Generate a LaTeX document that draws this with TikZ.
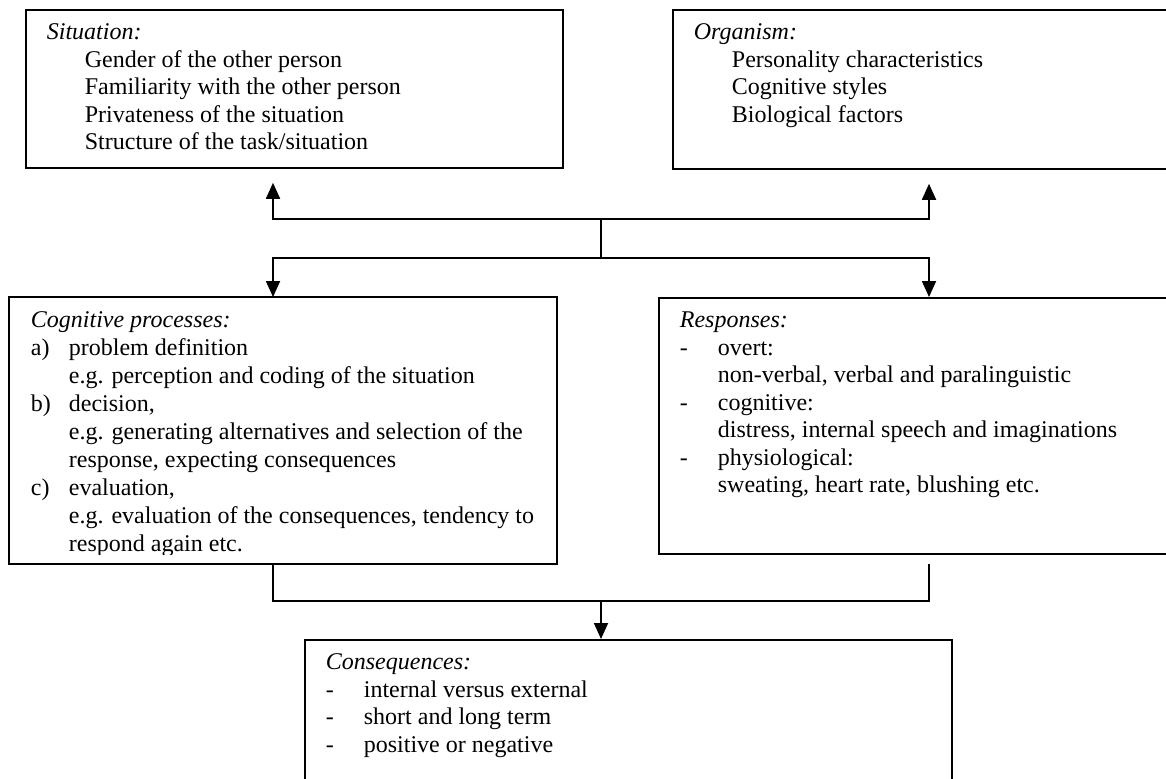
\documentclass[tikz,border=0pt]{standalone}
\usepackage{fontspec}
\setmainfont{Liberation Serif}
\usetikzlibrary{arrows.meta}

\newlength{\lblw}\setlength{\lblw}{19pt}
\newcommand{\itm}[2]{\makebox[\lblw][l]{#1}#2}
\newcommand{\boxtext}[3]{\parbox[c][#2][t]{#1}{\rule{0pt}{15pt}#3}}

\begin{document}
\begin{tikzpicture}[x=0.5pt, y=-0.5pt, line width=0.9pt,
                    main box/.style={draw,rectangle,anchor=north west,inner xsep=10.5pt,inner ysep=0pt,
                                     font=\fontsize{12}{13.75}\selectfont},
                    link/.style={-{Triangle[length=8pt,width=7pt]}}]

  \useasboundingbox (0,0) rectangle (1166,778);
  \clip (0,0) rectangle (1166,778);

  \node[main box] (sit) at (25,9) {\boxtext{247.5pt}{79pt}{%
      \textit{Situation:}\\
      \itm{}{Gender of the other person}\\
      \itm{}{Familiarity with the other person}\\
      \itm{}{Privateness of the situation}\\
      \itm{}{Structure of the task/situation}}};
  \node[main box] (org) at (672,9) {\boxtext{233pt}{79.5pt}{%
      \textit{Organism:}\\
      \itm{}{Personality characteristics}\\
      \itm{}{Cognitive styles}\\
      \itm{}{Biological factors}}};

  % text of this box runs over its lower margin
  \begin{scope}
    \clip (9,297) rectangle (555,554);
    \node[main box,draw=none,font=\fontsize{12}{14}\selectfont] (cog) at (9,297) {\boxtext{252pt}{132.5pt}{%
        \textit{Cognitive processes:}\\
        \itm{a)}{problem definition}\\
        \itm{}{e.g. perception and coding of the situation}\\
        \itm{b)}{decision,}\\
        \itm{}{e.g. generating alternatives and selection of the}\\
        \itm{}{response, expecting consequences}\\
        \itm{c)}{evaluation,}\\
        \itm{}{e.g. evaluation of the consequences, tendency to}\\
        \itm{}{respond again etc.}}};
  \end{scope}
  \draw (cog.north west) rectangle (cog.south east);

  \node[main box] (resp) at (658,297) {\boxtext{240pt}{128pt}{%
      \textit{Responses:}\\
      \itm{-}{overt:}\\
      \itm{}{non-verbal, verbal and paralinguistic}\\
      \itm{-}{cognitive:}\\
      \itm{}{distress, internal speech and imaginations}\\
      \itm{-}{physiological:}\\
      \itm{}{sweating, heart rate, blushing etc.}}};
  \node[main box] (cons) at (304,639) {\boxtext{302.5pt}{80.5pt}{%
      \textit{Consequences:}\\
      \itm{-}{internal versus external}\\
      \itm{-}{short and long term}\\
      \itm{-}{positive or negative}}};

  \coordinate (colL) at (273,0);
  \coordinate (colR) at (929,0);
  \coordinate (split) at (601,219);
  \coordinate (join) at (601,258);
  \coordinate (merge) at (601,601);

  % upper connectors
  \draw (split) -- (join);
  \draw[link,shorten >=7pt] (split) -| (colL |- sit.south);
  \draw[link,shorten >=7pt] (split) -| (colR |- org.south);
  \draw[link] (join) -| (colL |- cog.north);
  \draw[link] (join) -| (colR |- resp.north);

  % lower connectors
  \draw (colL |- cog.south) |- (merge);
  \draw[shorten <=4.5pt] (colR |- resp.south) |- (merge);
  \draw[link] (merge) -- (merge |- cons.north);

\end{tikzpicture}
\end{document}
